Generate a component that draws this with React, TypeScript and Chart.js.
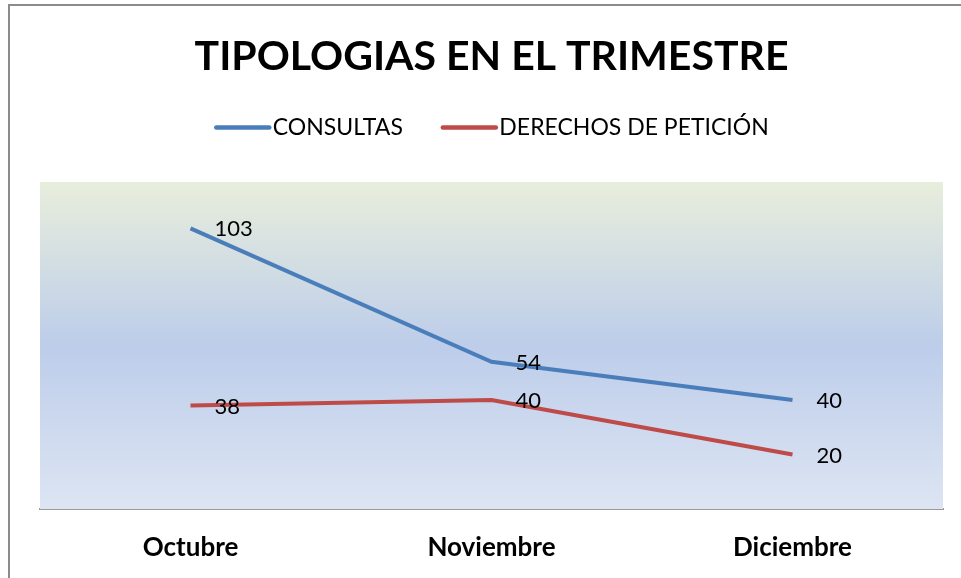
import React, { useEffect, useRef } from "react";
import { Chart, registerables } from "chart.js";

Chart.register(...registerables);

const categories = ["Octubre", "Noviembre", "Diciembre"];
const consultas = [103, 54, 40];
const derechos = [38, 40, 20];
const seriesNames = ["CONSULTAS", "DERECHOS DE PETICIÓN"];
const seriesColors = ["#4A7EBB", "#BE4B48"];
const titleText = "TIPOLOGIAS EN EL TRIMESTRE";

const FONT = "Lato, 'Open Sans', sans-serif";

const bgPlugin = {
  id: "bgGradient",
  beforeDatasetsDraw(chart: any) {
    const { ctx, chartArea } = chart;
    if (!chartArea) return;
    const g = ctx.createLinearGradient(0, chartArea.top, 0, chartArea.bottom);
    g.addColorStop(0, "#E8EEDC");
    g.addColorStop(0.5, "#BDCDEA");
    g.addColorStop(1, "#DDE5F3");
    ctx.save();
    ctx.fillStyle = g;
    ctx.fillRect(chartArea.left, chartArea.top, chartArea.right - chartArea.left, chartArea.bottom - chartArea.top);
    ctx.restore();
  },
};

const legendSpacePlugin = {
  id: "legendSpace",
  beforeInit(chart: any) {
    const legend = chart.legend;
    if (!legend) return;
    const origFit = legend.fit;
    legend.fit = function () {
      origFit.call(this);
      this.height += 33;
    };
  },
  afterDraw(chart: any) {
    const legend = chart.legend;
    if (!legend || !legend.legendHitBoxes) return;
    const { ctx } = chart;
    ctx.save();
    ctx.lineWidth = 4.5;
    ctx.lineCap = "round";
    legend.legendHitBoxes.forEach((hb: any, i: number) => {
      const y = hb.top + hb.height / 2;
      ctx.strokeStyle = seriesColors[i];
      ctx.beginPath();
      ctx.moveTo(hb.left + 2, y);
      ctx.lineTo(hb.left + 55, y);
      ctx.stroke();
    });
    ctx.restore();
  },
};

const labelPlugin = {
  id: "valueLabels",
  afterDatasetsDraw(chart: any) {
    const { ctx } = chart;
    ctx.save();
    ctx.font = `22px ${FONT}`;
    ctx.fillStyle = "#000";
    ctx.textAlign = "left";
    ctx.textBaseline = "middle";
    chart.data.datasets.forEach((ds: any, i: number) => {
      const meta = chart.getDatasetMeta(i);
      meta.data.forEach((pt: any, j: number) => {
        ctx.fillText(String(ds.data[j]), pt.x + 24, pt.y + 1);
      });
    });
    ctx.restore();
  },
};

export default function App() {
  const ref = useRef<HTMLCanvasElement | null>(null);
  useEffect(() => {
    document.body.style.margin = "0";
    const chart = new Chart(ref.current as HTMLCanvasElement, {
      type: "line",
      data: {
        labels: categories,
        datasets: [
          {
            label: seriesNames[0],
            data: consultas,
            borderColor: seriesColors[0],
            backgroundColor: seriesColors[0],
            borderWidth: 4,
            pointRadius: 0,
            tension: 0,
          },
          {
            label: seriesNames[1],
            data: derechos,
            borderColor: seriesColors[1],
            backgroundColor: seriesColors[1],
            borderWidth: 4,
            pointRadius: 0,
            tension: 0,
          },
        ],
      },
      options: {
        responsive: false,
        animation: false,
        layout: { padding: { left: 40, right: 18, top: 0, bottom: 0 } },
        plugins: {
          title: {
            display: true,
            text: titleText,
            color: "#000",
            font: { family: FONT, size: 41, weight: "bold", lineHeight: 1.0 },
            padding: { top: 36, bottom: 1 },
          },
          legend: {
            display: true,
            position: "top",
            labels: {
              color: "#000",
              font: { family: FONT, size: 23 },
              boxWidth: 47,
              boxHeight: 4,
              padding: 38,
              generateLabels(chart: any) {
                return chart.data.datasets.map((ds: any, i: number) => ({
                  text: ds.label,
                  fillStyle: "rgba(0,0,0,0)",
                  strokeStyle: "rgba(0,0,0,0)",
                  lineWidth: 0,
                  fontColor: "#000",
                  hidden: false,
                  datasetIndex: i,
                }));
              },
            },
          },
          tooltip: { enabled: false },
        },
        scales: {
          x: {
            offset: true,
            grid: { display: false, drawTicks: false },
            border: { display: true, color: "#9A9A9A", width: 2 },
            ticks: {
              color: "#000",
              font: { family: FONT, size: 26, weight: "bold" },
              padding: 23,
            },
            afterFit(scale: any) {
              scale.height = 69;
            },
          },
          y: {
            display: false,
            min: 0,
            max: 120,
          },
        },
      },
      plugins: [legendSpacePlugin, bgPlugin, labelPlugin],
    });
    return () => chart.destroy();
  }, []);
  return (
    <div style={{ position: "absolute", left: 0, top: 0, width: 961, height: 578, background: "#fff" }}>
      <canvas ref={ref} width={961} height={578} style={{ display: "block" }} />
      <div
        style={{
          position: "absolute",
          left: 8,
          top: 4,
          width: 980,
          height: 600,
          borderTop: "2px solid #8C8C8C",
          borderLeft: "2px solid #8C8C8C",
          pointerEvents: "none",
        }}
      />
    </div>
  );
}
